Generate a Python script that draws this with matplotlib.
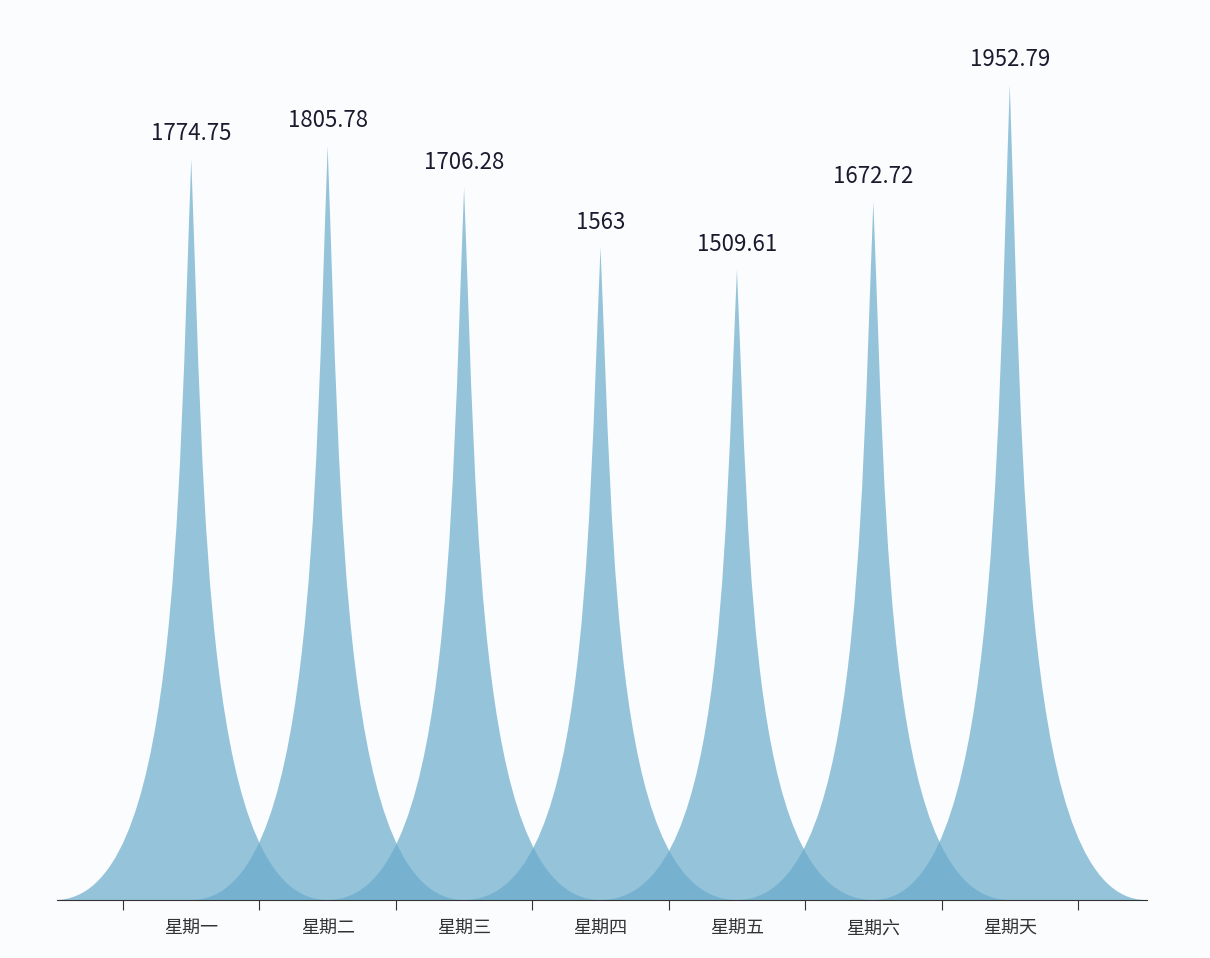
import matplotlib

matplotlib.use("Agg")
import matplotlib.pyplot as plt
from matplotlib.path import Path
from matplotlib.patches import PathPatch

plt.rcParams["font.family"] = ["Noto Sans CJK SC", "DejaVu Sans"]

days = ["星期一", "星期二", "星期三", "星期四", "星期五", "星期六", "星期天"]
values = [1774.75, 1805.78, 1706.28, 1563, 1509.61, 1672.72, 1952.79]
labels = ["1774.75", "1805.78", "1706.28", "1563", "1509.61", "1672.72", "1952.79"]


def spike(xc, h, half=1.0):
    # echarts-style pictorial spike: M0,10 L10,10 C5.5,10 5.5,5 5,0 C4.5,5 4.5,10 0,10
    def P(px, py):
        return (xc - half + px / 10 * 2 * half, h * (10 - py) / 10)
    verts = [P(0, 10), P(10, 10), P(5.5, 10), P(5.5, 5), P(5, 0),
             P(4.5, 5), P(4.5, 10), P(0, 10), P(0, 10)]
    codes = [Path.MOVETO, Path.LINETO, Path.CURVE4, Path.CURVE4, Path.CURVE4,
             Path.CURVE4, Path.CURVE4, Path.CURVE4, Path.CLOSEPOLY]
    return Path(verts, codes)


fig = plt.figure(figsize=(12.1, 9.58), dpi=100)
fig.patch.set_facecolor("#fbfcfe")
ax = fig.add_axes([57 / 1210, 1 - 900 / 958, 1090 / 1210, 835 / 958])
ax.set_facecolor("none")

for i, v in enumerate(values):
    ax.add_patch(PathPatch(spike(i, v), facecolor="#6aaccb", edgecolor="none", alpha=0.7))
    ax.annotate(labels[i], (i, v), xytext=(0, 10), textcoords="offset points",
                ha="center", va="bottom", fontsize=16, color="#1c1a2e")

ax.set_xlim(-0.984, 7.006)
ax.set_ylim(0, 2000)
ax.set_yticks([])
ax.set_xticks([k + 0.5 for k in range(-1, 7)])
ax.set_xticklabels([])
ax.set_xticks(range(7), minor=True)
ax.set_xticklabels(days, minor=True, fontsize=13, color="#333333")
ax.tick_params(axis="x", which="minor", length=0, pad=14)
ax.tick_params(axis="x", which="major", length=7, color="#333333")
for s in ["top", "right", "left"]:
    ax.spines[s].set_visible(False)
ax.spines["bottom"].set_color("#333333")

fig.savefig("out.png", dpi=100, facecolor=fig.get_facecolor())
